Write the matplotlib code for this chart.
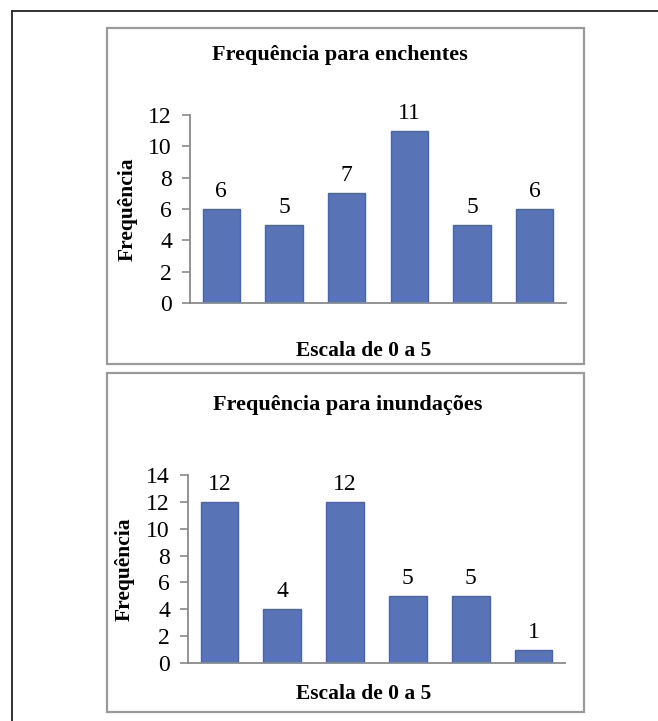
import matplotlib
matplotlib.use("Agg")
import matplotlib.pyplot as plt
from matplotlib.patches import Rectangle
from matplotlib.lines import Line2D

# Data
categories = [0, 1, 2, 3, 4, 5]
enchentes = [6, 5, 7, 11, 5, 6]
inundacoes = [12, 4, 12, 5, 5, 1]
yticks_enchentes = [0, 2, 4, 6, 8, 10, 12]
yticks_inundacoes = [0, 2, 4, 6, 8, 10, 12, 14]

W, H = 658, 721
plt.rcParams['font.family'] = ['Liberation Serif', 'DejaVu Serif']

fig = plt.figure(figsize=(W / 100, H / 100), dpi=100)
fig.patch.set_facecolor('white')

BAR_FACE = '#5873B6'
BAR_EDGE = '#4765AE'
AXIS_GRAY = '#8a8a8a'
FRAME_GRAY = '#9a9a9a'


def px(x0, y0, x1, y1):
    """Pixel box (top-left origin) -> figure-fraction rect."""
    return [x0 / W, 1 - y1 / H, (x1 - x0) / W, (y1 - y0) / H]


# Outer document frame (top and left edges)
fig.add_artist(Line2D([12 / W, 1.0], [1 - 11 / H, 1 - 11 / H],
                      transform=fig.transFigure, color='#222222', lw=1.3))
fig.add_artist(Line2D([12 / W, 12 / W], [1 - 11 / H, 0.0],
                      transform=fig.transFigure, color='#222222', lw=1.3))

# Chart area frames
for (x0, y0, x1, y1) in [(107, 28, 584, 364), (107, 373, 584, 712)]:
    r = px(x0, y0, x1, y1)
    fig.add_artist(Rectangle((r[0], r[1]), r[2], r[3], transform=fig.transFigure,
                             fill=False, edgecolor=FRAME_GRAY, lw=1.6))


def draw_panel(rect, values, yticks, title, title_x, title_y, xlabel_y):
    ax = fig.add_axes(rect)
    bars = ax.bar(categories, values, width=0.6, color=BAR_FACE,
                  edgecolor=BAR_EDGE, linewidth=1.0, zorder=2)
    ax.set_xlim(-0.5, 5.5)
    ax.set_ylim(yticks[0], yticks[-1])
    ax.set_yticks(yticks)
    ax.set_xticks([])
    for s in ['top', 'right']:
        ax.spines[s].set_visible(False)
    for s in ['left', 'bottom']:
        ax.spines[s].set_color(AXIS_GRAY)
        ax.spines[s].set_linewidth(1.3)
    ax.tick_params(axis='y', direction='out', length=6, width=1.2,
                   color=AXIS_GRAY, labelsize=17, pad=7)
    ax.set_facecolor('none')
    for b, v in zip(bars, values):
        ax.annotate(str(v), (b.get_x() + b.get_width() / 2, v),
                    xytext=(0, 5), textcoords='offset points',
                    ha='center', va='bottom', fontsize=17)
    ax.set_ylabel('Frequência', fontsize=15.5, fontweight='bold', labelpad=8)
    fig.text(title_x / W, 1 - title_y / H, title, ha='center', va='center',
             fontsize=16, fontweight='bold')
    fig.text(364 / W, 1 - xlabel_y / H, 'Escala de 0 a 5', ha='center',
             va='center', fontsize=15.5, fontweight='bold')
    return ax


draw_panel(px(190, 115, 566, 303), enchentes, yticks_enchentes,
           'Frequência para enchentes', 340, 55, 351)
draw_panel(px(188, 475, 565, 663), inundacoes, yticks_inundacoes,
           'Frequência para inundações', 348, 405, 694)

fig.savefig('out.png', dpi=100, facecolor='white')
